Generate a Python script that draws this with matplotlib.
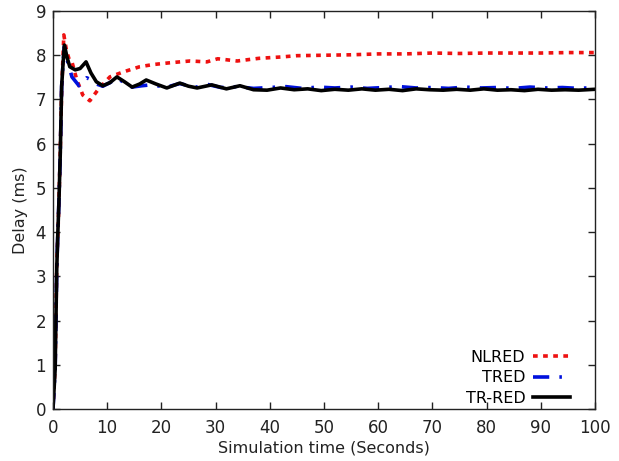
import matplotlib
matplotlib.use("Agg")
import matplotlib.pyplot as plt

# NLRED (red dotted)
t_nlred = [0, 0.4, 0.7, 1.0, 1.3, 1.6, 2.0, 2.5, 3.0, 3.5, 4.4, 5.5, 6.8, 8.3, 10.5,
           12.9, 16, 18.5, 21.6, 25.3, 28.4, 30.4, 34, 38, 42, 45, 50, 55, 60, 65,
           70, 75, 80, 85, 90, 95, 100]
nlred = [0, 1.0, 3.3, 4.3, 5.6, 7.2, 8.46, 8.1, 7.9, 7.85, 7.44, 7.1, 6.97, 7.22, 7.51,
         7.62, 7.74, 7.79, 7.83, 7.87, 7.85, 7.92, 7.87, 7.93, 7.96, 7.99, 8.0, 8.01, 8.03, 8.03,
         8.05, 8.04, 8.05, 8.05, 8.05, 8.06, 8.06]

# TRED (blue dash-dot)
t_tred = [0, 0.4, 0.7, 0.9, 1.1, 1.35, 1.6, 1.85, 2.1, 2.6, 3.5, 4.8, 6.2, 7.0, 8.0,
          9.2, 10.5, 11.8, 13.2, 14.6, 16.4, 18.0, 21.0, 23.4, 25.0, 26.6, 28.5, 31, 34,
          37, 40, 43, 46, 49, 52, 55, 58, 61, 64, 67, 70, 73, 76, 79, 82, 85, 88, 91,
          94, 97, 100]
tred = [0, 0.9, 3.2, 4.0, 4.7, 5.8, 7.3, 7.8, 8.2, 7.9, 7.51, 7.31, 7.49, 7.45, 7.35,
        7.3, 7.38, 7.48, 7.38, 7.28, 7.31, 7.33, 7.28, 7.36, 7.31, 7.28, 7.34, 7.27, 7.29,
        7.25, 7.27, 7.29, 7.25, 7.28, 7.26, 7.28, 7.25, 7.27, 7.29, 7.26, 7.27, 7.25, 7.28,
        7.26, 7.27, 7.25, 7.28, 7.26, 7.27, 7.25, 7.27]

# TR-RED (black solid)
t_trred = [0, 0.4, 0.7, 0.9, 1.1, 1.35, 1.6, 1.85, 2.1, 2.6, 3.1, 4.1, 5.0, 6.1, 7.0,
           8.0, 9.2, 10.5, 11.8, 13.2, 14.6, 16.0, 17.2, 19.0, 21.0, 23.4, 25.0, 26.6,
           29.3, 32.0, 34.5, 37, 39.5, 42, 44.5, 47, 49.5, 52, 54.5, 57, 59.5, 62, 64.5,
           67, 69.5, 72, 74.5, 77, 79.5, 82, 84.5, 87, 89.5, 92, 94.5, 97, 100]
trred = [0, 0.9, 3.2, 4.0, 4.7, 5.8, 7.3, 7.8, 8.23, 7.95, 7.74, 7.67, 7.7, 7.85, 7.6,
         7.4, 7.31, 7.38, 7.51, 7.4, 7.28, 7.35, 7.44, 7.35, 7.26, 7.37, 7.3, 7.26,
         7.33, 7.24, 7.31, 7.22, 7.21, 7.26, 7.22, 7.24, 7.20, 7.23, 7.21, 7.24, 7.21, 7.23,
         7.20, 7.24, 7.22, 7.21, 7.23, 7.21, 7.24, 7.21, 7.22, 7.20, 7.23, 7.21, 7.22, 7.21, 7.23]

x_ticks = list(range(0, 101, 10))
y_ticks = list(range(0, 10))

plt.rcParams["font.family"] = "DejaVu Sans"

fig = plt.figure(figsize=(6.19, 4.61), dpi=100)
ax = fig.add_axes([0.0856, 0.1128, 0.8755, 0.8633])

ax.plot(t_nlred, nlred, color="#ee1111", linewidth=2.6, linestyle=(0, (1.3, 1.5)), label="NLRED")
ax.plot(t_tred, tred, color="#0011dd", linewidth=2.6, linestyle=(0, (4.5, 2.8, 0.7, 2.8)), label="TRED")
ax.plot(t_trred, trred, color="black", linewidth=2.6, label="TR-RED")

ax.set_xlim(0, 100)
ax.set_ylim(0, 9)
ax.set_xticks(x_ticks)
ax.set_yticks(y_ticks)
ax.tick_params(axis="x", pad=7)
ax.tick_params(axis="y", pad=5)
ax.tick_params(direction="in", top=True, right=True, length=5, width=1,
               labelsize=12, colors="#222222", labelcolor="#222222")
for s in ax.spines.values():
    s.set_linewidth(1)
    s.set_color("#222222")

ax.set_xlabel("Simulation time (Seconds)", fontsize=11.5, color="#222222", labelpad=3)
ax.set_ylabel("Delay (ms)", fontsize=11.5, color="#222222", labelpad=5)

ax.legend(loc="lower right", bbox_to_anchor=(0.954, 0.008), frameon=False, markerfirst=False,
          fontsize=11.5, handlelength=2.3, handletextpad=0.5, labelspacing=0.35,
          borderaxespad=0, borderpad=0)

fig.savefig("out.png", dpi=100)
